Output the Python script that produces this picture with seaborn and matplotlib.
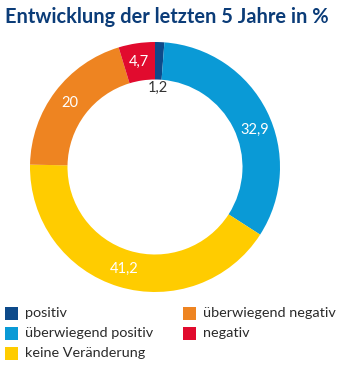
import matplotlib
matplotlib.use("Agg")
import matplotlib.pyplot as plt
from matplotlib.patches import Rectangle
import numpy as np
import seaborn as sns

# Data
categories = ["positiv", "überwiegend positiv", "keine Veränderung",
              "überwiegend negativ", "negativ"]
values = [1.2, 32.9, 41.2, 20, 4.7]
value_labels = ["1,2", "32,9", "41,2", "20", "4,7"]
colors = ["#0d4a8a", "#0a9ad6", "#ffcc00", "#ee8421", "#e10b2e"]
title = "Entwicklung der letzten 5 Jahre in %"

sns.set_theme(style="white")
plt.rcParams["font.family"] = ["Lato", "DejaVu Sans"]

W, H = 338, 369
fig = plt.figure(figsize=(W / 100, H / 100), dpi=100)
fig.patch.set_facecolor("white")

# pie axes: center (155,167), outer radius 125 px
cx, cy, R = 155, 167, 125
ax = fig.add_axes([(cx - R) / W, 1 - (cy + R) / H, 2 * R / W, 2 * R / H])
wedges, _ = ax.pie(values, colors=colors, startangle=90, counterclock=False,
                   radius=1.0, wedgeprops=dict(width=0.30, edgecolor="none"))
ax.set_xlim(-1, 1)
ax.set_ylim(-1, 1)
ax.set_aspect("equal")
ax.axis("off")

total = sum(values)
cum = 0
for i, (v, lab) in enumerate(zip(values, value_labels)):
    mid = (cum + v / 2) / total * 360
    cum += v
    ang = np.deg2rad(90 - mid)
    if i == 0:
        r = 0.63
        col = "#333333"
    else:
        r = 0.85
        col = "white"
    dx, dy = 0, 0
    if i == 1:
        dx, dy = 0.04, -0.08
    ax.text(r * np.cos(ang) + dx, r * np.sin(ang) + dy, lab, ha="center",
            va="center", color=col, fontsize=10.5)

fig.text(5 / W, 1 - 17 / H, title, ha="left", va="center", color="#0b3c78",
         fontsize=14.4, fontweight="bold")

# legend
sq = 13
rows_y = [313, 333, 353]
cols_x = [5, 183]
for i, (lab, c) in enumerate(zip(categories, colors)):
    col, row = i // 3, i % 3
    x0 = cols_x[col]
    yc = rows_y[row]
    fig.patches.append(Rectangle((x0 / W, 1 - (yc + sq / 2) / H), sq / W, sq / H,
                                 transform=fig.transFigure, facecolor=c,
                                 edgecolor="none"))
    fig.text((x0 + 20) / W, 1 - yc / H, lab, ha="left", va="center",
             color="#2a2a2a", fontsize=10.4)

fig.savefig("out.png", dpi=100, facecolor="white")
